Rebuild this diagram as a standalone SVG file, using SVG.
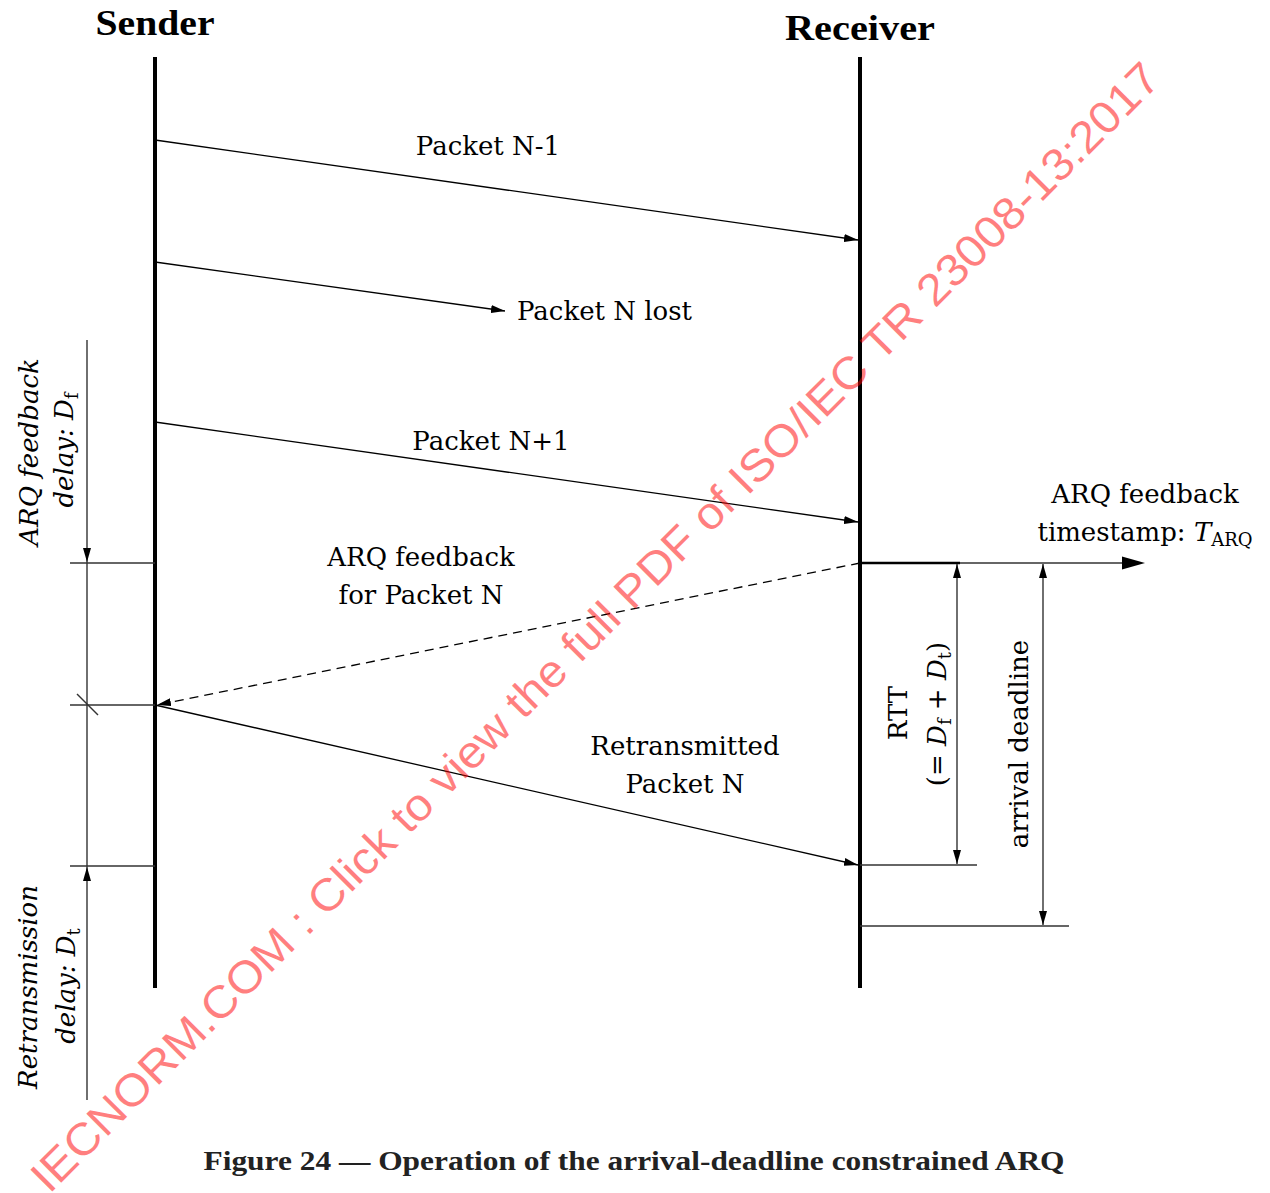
<svg xmlns="http://www.w3.org/2000/svg" width="1270" height="1193" viewBox="0 0 1270 1193">
<defs>
<style>
.t{font-family:"DejaVu Serif","Liberation Serif",serif;font-size:26px;fill:#000}
.i{font-style:italic}
.sub{font-size:18px;font-style:normal}
.h{font-family:"Liberation Serif",serif;font-weight:bold;font-size:36px;fill:#000}
.cap{font-family:"Liberation Serif",serif;font-weight:bold;font-size:28px;fill:#222}
.life{stroke:#000;stroke-width:4;fill:none}
.msg{stroke:#000;stroke-width:1.3;fill:none}
.dim{stroke:#333;stroke-width:1.4;fill:none}
.wm{font-family:"Liberation Sans",Arial,sans-serif;font-size:45px;fill:#ff0000;fill-opacity:0.5}
</style>
<marker id="ah" viewBox="0 0 14 8" refX="14" refY="4" markerWidth="14" markerHeight="8" orient="auto-start-reverse" markerUnits="userSpaceOnUse"><path d="M0,0 L14,4 L0,8 z" fill="#000"/></marker>
</defs>
<rect width="1270" height="1193" fill="#fff"/>

<g id="sender">
<text class="h" x="155" y="35" text-anchor="middle" textLength="119" lengthAdjust="spacingAndGlyphs">Sender</text>
<line class="life" x1="155" y1="57" x2="155" y2="988"/>
</g>
<g id="receiver">
<text class="h" x="860" y="40" text-anchor="middle" textLength="150" lengthAdjust="spacingAndGlyphs">Receiver</text>
<line class="life" x1="860" y1="57" x2="860" y2="988"/>
</g>

<g id="connectors">
<line class="msg" x1="155" y1="140" x2="858" y2="240" marker-end="url(#ah)"/>
<line class="msg" x1="155" y1="262" x2="505" y2="311" marker-end="url(#ah)"/>
<line class="msg" x1="155" y1="422" x2="858" y2="522" marker-end="url(#ah)"/>
<line class="msg" x1="860" y1="563" x2="157" y2="705" stroke-dasharray="9,6" marker-end="url(#ah)"/>
<line class="msg" x1="155" y1="705" x2="858" y2="865" marker-end="url(#ah)"/>
</g>

<g id="timestamp">
<line x1="860" y1="563" x2="960" y2="563" stroke="#000" stroke-width="2.5"/>
<line class="dim" x1="960" y1="563" x2="1125" y2="563"/>
<path d="M1122,556.5 L1145,563 L1122,569.5 z" fill="#000"/>
<text class="t" x="1145" y="503" text-anchor="middle">ARQ feedback</text>
<text class="t" x="1145" y="541" text-anchor="middle">timestamp: <tspan class="i">T</tspan><tspan class="sub" dy="5">ARQ</tspan></text>
</g>

<g id="rtt">
<line class="dim" x1="860" y1="865" x2="977" y2="865"/>
<line class="dim" x1="957" y1="564" x2="957" y2="864" marker-start="url(#ah)" marker-end="url(#ah)"/>
<text class="t" transform="translate(907,713) rotate(-90)" text-anchor="middle">RTT</text>
<text class="t" transform="translate(946,714) rotate(-90)" text-anchor="middle">(= <tspan class="i">D</tspan><tspan class="sub" dy="5">f</tspan><tspan dy="-5"> + </tspan><tspan class="i">D</tspan><tspan class="sub" dy="5">t</tspan><tspan dy="-5">)</tspan></text>
</g>

<g id="deadline">
<line class="dim" x1="860" y1="926" x2="1069" y2="926"/>
<line class="dim" x1="1043" y1="564" x2="1043" y2="925" marker-start="url(#ah)" marker-end="url(#ah)"/>
<text class="t" transform="translate(1028,744) rotate(-90)" text-anchor="middle">arrival deadline</text>
</g>

<g id="left-dims">
<line class="dim" x1="70" y1="563" x2="155" y2="563"/>
<line class="dim" x1="70" y1="705" x2="155" y2="705"/>
<line class="dim" x1="70" y1="866" x2="155" y2="866"/>
<line class="dim" x1="87" y1="340" x2="87" y2="562" marker-end="url(#ah)"/>
<line class="dim" x1="87" y1="562" x2="87" y2="867"/>
<line class="dim" x1="87" y1="1100" x2="87" y2="867" marker-end="url(#ah)"/>
<line class="dim" x1="77" y1="694" x2="98" y2="715"/>
<text class="t i" transform="translate(38,452) rotate(-90)" text-anchor="middle">ARQ feedback</text>
<text class="t i" transform="translate(73,450) rotate(-90)" text-anchor="middle">delay: D<tspan class="sub" dy="5">f</tspan></text>
<text class="t i" transform="translate(37,987) rotate(-90)" text-anchor="middle">Retransmission</text>
<text class="t i" transform="translate(75,986) rotate(-90)" text-anchor="middle">delay: D<tspan class="sub" dy="5">t</tspan></text>
</g>

<g id="labels">
<text class="t" x="488" y="155" text-anchor="middle">Packet N-1</text>
<text class="t" x="517" y="320">Packet N lost</text>
<text class="t" x="491" y="450" text-anchor="middle">Packet N+1</text>
<text class="t" x="421" y="566" text-anchor="middle">ARQ feedback</text>
<text class="t" x="421" y="604" text-anchor="middle">for Packet N</text>
<text class="t" x="685" y="755" text-anchor="middle">Retransmitted</text>
<text class="t" x="685" y="793" text-anchor="middle">Packet N</text>
</g>

<text class="cap" x="634" y="1170" text-anchor="middle" textLength="861" lengthAdjust="spacingAndGlyphs">Figure 24 — Operation of the arrival-deadline constrained ARQ</text>

<text class="wm" transform="translate(606,638) rotate(-45)" text-anchor="middle" textLength="1575" lengthAdjust="spacingAndGlyphs">IECNORM.COM : Click to view the full PDF of ISO/IEC TR 23008-13:2017</text>
</svg>
